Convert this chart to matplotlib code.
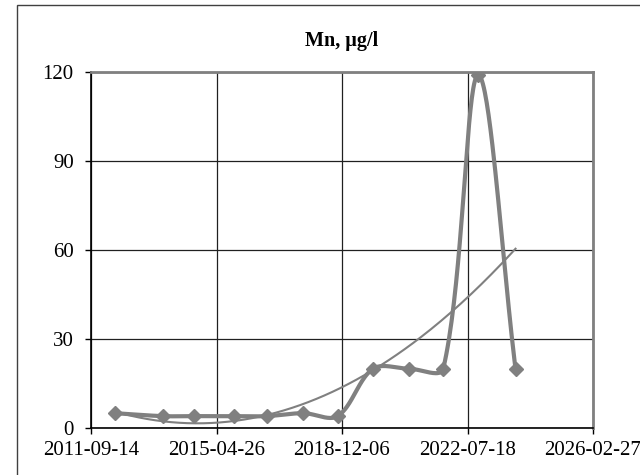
import numpy as np
import matplotlib
matplotlib.use('Agg')
import matplotlib.pyplot as plt
import matplotlib.dates as mdates
from matplotlib.patches import Rectangle
import datetime as dt

plt.rcParams['font.family'] = ['Liberation Serif', 'DejaVu Serif']

# sample dates and Mn concentration, ug/l
dates = ['2012-05-23', '2013-10-07', '2014-09-05', '2015-10-24', '2016-10-05',
         '2017-10-25', '2018-10-21', '2019-10-30', '2020-11-09', '2021-11-05',
         '2022-11-08', '2023-12-05']
mn = [5, 4, 4, 4, 4, 5, 4, 20, 20, 20, 119, 20]

x_ticks = ['2011-09-14', '2015-04-26', '2018-12-06', '2022-07-18', '2026-02-27']
y_ticks = [0, 30, 60, 90, 120]


def to_num(s):
    return mdates.date2num(dt.datetime.strptime(s, '%Y-%m-%d'))


def smooth(pts, n=40):
    # bezier smoothing with length weighted tangents (spreadsheet style)
    p = np.vstack([pts[0], pts, pts[-1]])
    t = np.linspace(0, 1, n)[:, None]
    out = []
    for i in range(1, len(p) - 2):
        p0, p1, p2, p3 = p[i - 1], p[i], p[i + 1], p[i + 2]
        d01 = np.hypot(*(p1 - p0))
        d12 = np.hypot(*(p2 - p1))
        d23 = np.hypot(*(p3 - p2))
        c1 = p1 + (p2 - p0) * d12 / (d01 + d12) / 3
        c2 = p2 - (p3 - p1) * d12 / (d12 + d23) / 3
        out.append((1 - t) ** 3 * p1 + 3 * (1 - t) ** 2 * t * c1
                   + 3 * (1 - t) * t ** 2 * c2 + t ** 3 * p2)
    return np.vstack(out)


xd = np.array([to_num(d) for d in dates])
yd = np.array(mn, dtype=float)
xt = [to_num(d) for d in x_ticks]

fig = plt.figure(figsize=(6.4, 4.75), dpi=100)
fig.patches.append(Rectangle((17 / 640, -0.02), 1.0, 1.02 - 5 / 475, transform=fig.transFigure,
                             fill=False, edgecolor='#404040', linewidth=1.0))
ax = fig.add_axes([91 / 640, 47 / 475, 502 / 640, 356 / 475])
ax.set_xlim(xt[0], xt[-1])
ax.set_ylim(0, 120)

# smooth in screen space, then back to data
disp = ax.transData.transform(np.column_stack([xd, yd]))
curve = ax.transData.inverted().transform(smooth(disp))
ax.plot(curve[:, 0], curve[:, 1], color='#808080', lw=3, solid_capstyle='round', zorder=3)
ax.plot(xd, yd, 'D', color='#808080', markersize=7, zorder=4)

# polynomial trend
coef = np.polyfit(xd - xd[0], yd, 2)
tx = np.linspace(xd[0], xd[-1], 200)
ax.plot(tx, np.polyval(coef, tx - xd[0]), color='#808080', lw=1.5, zorder=2)

ax.set_xticks(xt)
ax.set_xticklabels(x_ticks)
ax.set_yticks(y_ticks)
ax.tick_params(labelsize=15, direction='out', length=4.5, width=1, color='black')
ax.tick_params(axis='y', pad=8)
ax.tick_params(axis='x', pad=5)
ax.grid(True, color='#202020', lw=0.9)
for s in ['top', 'right']:
    ax.spines[s].set_color('#808080')
    ax.spines[s].set_linewidth(2)
for s in ['left', 'bottom']:
    ax.spines[s].set_color('black')
    ax.spines[s].set_linewidth(1.2)
ax.set_title('Mn, µg/l', fontsize=14.5, fontweight='bold', pad=19)

fig.savefig('out.png', dpi=100)
